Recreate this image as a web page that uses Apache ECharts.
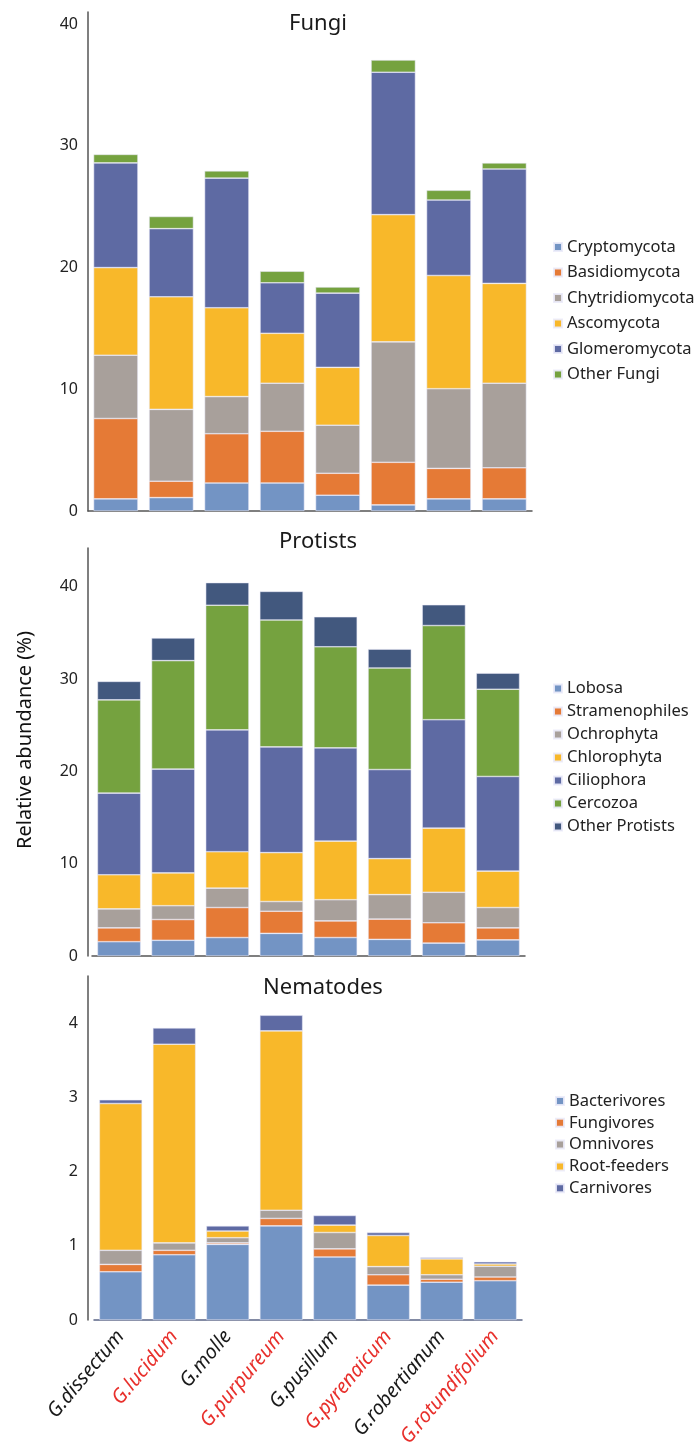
<!DOCTYPE html>
<html>
<head>
<meta charset="utf-8">
<script src="https://cdn.jsdelivr.net/npm/echarts@6/dist/echarts.min.js"></script>
<style>
  html, body { margin: 0; padding: 0; background: #fff; }
  #chart { width: 697px; height: 1450px; }
</style>
</head>
<body>
<div id="chart"></div>
<script>
  // species on the x axis (odd ones are printed red)
  const categories = ['G.dissectum', 'G.lucidum', 'G.molle', 'G.purpureum',
    'G.pusillum', 'G.pyrenaicum', 'G.robertianum', 'G.rotundifolium'];

  // Fungi (%)
  const cryptomycota    = [1.0, 1.1, 2.3, 2.3, 1.3, 0.5, 1.0, 1.0];
  const basidiomycota   = [6.6, 1.35, 4.05, 4.25, 1.8, 3.5, 2.5, 2.55];
  const chytridiomycota = [5.2, 5.9, 3.05, 3.95, 3.95, 9.9, 6.55, 6.95];
  const ascomycota      = [7.2, 9.25, 7.3, 4.1, 4.75, 10.45, 9.3, 8.2];
  const glomeromycota   = [8.6, 5.6, 10.65, 4.15, 6.1, 11.7, 6.2, 9.4];
  const otherFungi      = [0.7, 1.0, 0.6, 0.95, 0.5, 1.0, 0.8, 0.5];

  // Protists (%)
  const lobosa        = [1.55, 1.7, 2.0, 2.45, 2.0, 1.8, 1.4, 1.75];
  const stramenopiles = [1.5, 2.25, 3.25, 2.4, 1.8, 2.2, 2.2, 1.3];
  const ochrophyta    = [2.05, 1.5, 2.1, 1.05, 2.3, 2.65, 3.3, 2.2];
  const chlorophyta   = [3.7, 3.55, 3.95, 5.3, 6.35, 3.9, 6.95, 3.95];
  const ciliophora    = [8.85, 11.25, 13.2, 11.45, 10.1, 9.65, 11.75, 10.25];
  const cercozoa      = [10.1, 11.75, 13.5, 13.75, 10.95, 11.0, 10.2, 9.45];
  const otherProtists = [2.0, 2.45, 2.45, 3.1, 3.25, 2.05, 2.25, 1.75];

  // Nematodes (%)
  const bacterivores = [0.65, 0.88, 1.02, 1.27, 0.85, 0.47, 0.51, 0.53];
  const fungivores   = [0.1, 0.06, 0.02, 0.1, 0.11, 0.14, 0.04, 0.05];
  const omnivores    = [0.19, 0.1, 0.07, 0.11, 0.22, 0.11, 0.06, 0.145];
  const rootFeeders  = [1.98, 2.68, 0.09, 2.42, 0.1, 0.42, 0.215, 0.03];
  const carnivores   = [0.05, 0.22, 0.07, 0.21, 0.13, 0.04, 0.02, 0.03];

  const groups = [
    { title: 'Fungi', series: [
      ['Cryptomycota', cryptomycota], ['Basidiomycota', basidiomycota],
      ['Chytridiomycota', chytridiomycota], ['Ascomycota', ascomycota],
      ['Glomeromycota', glomeromycota], ['Other Fungi', otherFungi]] },
    { title: 'Protists', series: [
      ['Lobosa', lobosa], ['Stramenophiles', stramenopiles], ['Ochrophyta', ochrophyta],
      ['Chlorophyta', chlorophyta], ['Ciliophora', ciliophora], ['Cercozoa', cercozoa],
      ['Other Protists', otherProtists]] },
    { title: 'Nematodes', series: [
      ['Bacterivores', bacterivores], ['Fungivores', fungivores], ['Omnivores', omnivores],
      ['Root-feeders', rootFeeders], ['Carnivores', carnivores]] }
  ];

  const colors = ['#7394c4', '#e57a36', '#a8a09b', '#f8b82a', '#5e6aa3', '#75a23f', '#42587e'];
  const font = 'Noto Sans';

  const grids = [
    { left: 88, top: 12, width: 444, height: 499, outerBoundsMode: 'none' },
    { left: 92, top: 548, width: 433, height: 408, outerBoundsMode: 'none' },
    { left: 94, top: 976, width: 428, height: 344, outerBoundsMode: 'none' }
  ];
  const yMax = [41, 44.2, 4.64];
  const yStep = [10, 10, 1];
  const yOffset = [0, 4, 6];
  const baseColor = ['#555', '#555', '#5b6587'];
  const titlePos = [[313, 8], [313, 526], [318, 972]];
  const legendPos = [[553, 238.5], [553, 680], [555, 1092.5]];
  const legendGap = [8.5, 6, 4.8];

  let chart = echarts.init(document.getElementById('chart'));

  let series = [];
  groups.forEach((g, gi) => {
    g.series.forEach((s, si) => {
      series.push({
        name: s[0],
        type: 'bar',
        stack: 'g' + gi,
        xAxisIndex: gi,
        yAxisIndex: gi,
        barCategoryGap: '20%',
        itemStyle: {
          color: colors[si],
          borderColor: 'rgba(235,235,250,0.9)',
          borderWidth: 0.6
        },
        data: s[1]
      });
    });
  });

  let option = {
    animation: false,
    backgroundColor: '#fff',
    textStyle: { fontFamily: font },
    title: groups.map((g, gi) => ({
      text: g.title,
      left: titlePos[gi][0],
      top: titlePos[gi][1],
      textAlign: 'center',
      textStyle: { fontFamily: font, fontSize: 22, fontWeight: 'normal', color: '#1a1a1a' }
    })),
    graphic: [{
      type: 'text',
      x: 25,
      y: 740,
      rotation: Math.PI / 2,
      style: {
        text: 'Relative abundance (%)',
        fontFamily: font,
        fontSize: 20,
        fill: '#111',
        align: 'center',
        verticalAlign: 'middle'
      }
    }],
    legend: groups.map((g, gi) => ({
      orient: 'vertical',
      left: legendPos[gi][0],
      top: legendPos[gi][1],
      padding: 0,
      icon: 'rect',
      itemWidth: 8,
      itemHeight: 8,
      itemGap: legendGap[gi],
      textStyle: { fontFamily: font, fontSize: 16.5, color: '#222' },
      data: g.series.map(s => s[0])
    })),
    grid: grids,
    xAxis: grids.map((gr, gi) => ({
      type: 'category',
      gridIndex: gi,
      data: categories,
      axisTick: { show: false },
      axisLine: { lineStyle: { color: baseColor[gi], width: 1.5 } },
      axisLabel: gi < 2 ? { show: false } : {
        rotate: 50,
        margin: 13,
        interval: 0,
        formatter: (v, i) => (i % 2 ? '{r|' + v + '}' : '{b|' + v + '}'),
        rich: {
          b: { color: '#1a1a1a', fontStyle: 'italic', fontSize: 20, fontFamily: font },
          r: { color: '#e8302c', fontStyle: 'italic', fontSize: 20, fontFamily: font }
        }
      }
    })),
    yAxis: grids.map((gr, gi) => ({
      type: 'value',
      gridIndex: gi,
      min: 0,
      max: yMax[gi],
      interval: yStep[gi],
      offset: yOffset[gi],
      splitLine: { show: false },
      axisTick: { show: false },
      axisLine: { show: true, lineStyle: { color: '#555', width: 1.5 } },
      axisLabel: {
        fontSize: 16,
        color: '#222',
        margin: 10,
        formatter: v => (Math.abs(v / yStep[gi] - Math.round(v / yStep[gi])) < 1e-6 ? String(v) : '')
      }
    })),
    series: series
  };
  chart.setOption(option);
</script>
</body>
</html>
